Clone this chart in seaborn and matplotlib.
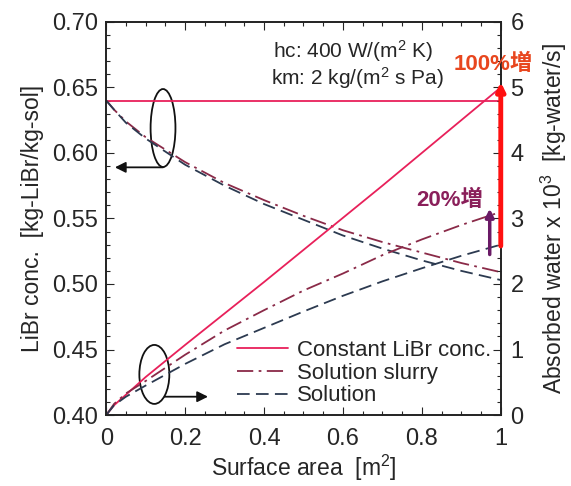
import numpy as np
import pandas as pd
import matplotlib
matplotlib.use("Agg")
import matplotlib.pyplot as plt
import seaborn as sns
from matplotlib.patches import Ellipse
from matplotlib.ticker import MultipleLocator

# ---- data ----
area = [0.0, 0.02, 0.05, 0.1, 0.2, 0.3, 0.4, 0.5, 0.6, 0.7, 0.8, 0.9, 1.0]
conc_const = [0.64] * 13
conc_slurry = [0.640, 0.633, 0.624, 0.612, 0.593, 0.577, 0.564, 0.552, 0.541, 0.532, 0.524, 0.516, 0.509]
conc_solution = [0.640, 0.633, 0.623, 0.611, 0.591, 0.575, 0.561, 0.549, 0.537, 0.527, 0.518, 0.510, 0.503]
abs_const = [0.0, 0.15, 0.31, 0.58, 1.07, 1.55, 2.03, 2.52, 3.01, 3.50, 4.00, 4.50, 5.00]
abs_slurry = [0.0, 0.17, 0.33, 0.52, 0.92, 1.29, 1.60, 1.90, 2.16, 2.44, 2.68, 2.90, 3.10]
abs_solution = [0.0, 0.15, 0.28, 0.45, 0.78, 1.08, 1.33, 1.58, 1.82, 2.04, 2.24, 2.43, 2.60]
labels = ["Constant LiBr conc.", "Solution slurry", "Solution"]

sns.set_style("ticks")
plt.rcParams['font.family'] = ['Liberation Sans', 'Noto Sans CJK JP', 'DejaVu Sans']
plt.rcParams['mathtext.fontset'] = 'custom'
plt.rcParams['mathtext.rm'] = 'Liberation Sans'
plt.rcParams['mathtext.it'] = 'Liberation Sans'
plt.rcParams['axes.unicode_minus'] = False

c_const = "#e8205a"
c_slurry = "#8a2a48"
c_sol = "#2c3a50"

fig = plt.figure(figsize=(5.71, 4.86), dpi=100)
ax = fig.add_axes([0.186, 0.146, 0.691, 0.809])
ax2 = ax.twinx()

df = pd.DataFrame({"area": area, "cc": conc_const, "cs": conc_slurry, "cl": conc_solution,
                   "ac": abs_const, "as": abs_slurry, "al": abs_solution})

sns.lineplot(data=df, x="area", y="cc", ax=ax, color=c_const, lw=1.3)
sns.lineplot(data=df, x="area", y="cs", ax=ax, color=c_slurry, lw=1.3).lines[-1].set_dashes((9, 3, 1.5, 3))
sns.lineplot(data=df, x="area", y="cl", ax=ax, color=c_sol, lw=1.3).lines[-1].set_dashes((7, 3.5))

sns.lineplot(data=df, x="area", y="ac", ax=ax2, color=c_const, lw=1.3, label=labels[0])
sns.lineplot(data=df, x="area", y="as", ax=ax2, color=c_slurry, lw=1.3, label=labels[1])
ax2.lines[-1].set_dashes((9, 3, 1.5, 3))
sns.lineplot(data=df, x="area", y="al", ax=ax2, color=c_sol, lw=1.3, label=labels[2])
ax2.lines[-1].set_dashes((7, 3.5))

ax.set_xlim(0, 1)
ax.set_ylim(0.40, 0.70)
ax2.set_ylim(0, 6)

fs = 16.5
ax.set_xlabel("Surface area  [m$^2$]", fontsize=fs, labelpad=2)
ax.set_ylabel("LiBr conc.  [kg-LiBr/kg-sol]", fontsize=fs, labelpad=6)
ax2.set_ylabel("Absorbed water x 10$^3$  [kg-water/s]", fontsize=fs, labelpad=11)


def xfmt(v, p):
    r = round(v, 6)
    if r == 0:
        return "0"
    if r == 1:
        return "1"
    return f"{r:.1f}"


ax.xaxis.set_major_locator(MultipleLocator(0.2))
ax.xaxis.set_minor_locator(MultipleLocator(0.05))
ax.yaxis.set_major_locator(MultipleLocator(0.05))
ax.yaxis.set_minor_locator(MultipleLocator(0.01))
ax2.yaxis.set_major_locator(MultipleLocator(1))
ax2.yaxis.set_minor_locator(MultipleLocator(0.2))
ax.xaxis.set_major_formatter(matplotlib.ticker.FuncFormatter(xfmt))
ax.yaxis.set_major_formatter(matplotlib.ticker.FormatStrFormatter("%.2f"))

ax.tick_params(which="both", direction="in", top=True, labelsize=17, width=0.8)
ax.tick_params(which="major", length=6)
ax.tick_params(which="minor", length=3)
ax.tick_params(axis="x", which="major", pad=9)
ax.tick_params(axis="y", which="major", pad=6)
ax2.tick_params(which="both", direction="in", labelsize=17, width=0.8)
ax2.tick_params(which="major", length=6, pad=7)
ax2.tick_params(which="minor", length=3)
for a in (ax, ax2):
    for s in a.spines.values():
        s.set_linewidth(1.2)
        s.set_color("#222222")

leg = ax2.legend(loc="lower left", bbox_to_anchor=(0.332, 0.022), frameon=False,
                 fontsize=16, handlelength=2.3, handletextpad=0.4,
                 labelspacing=0.08, borderaxespad=0, borderpad=0)

# text annotations
ax.text(0.422, 0.678, "hc: 400 W/(m$^2$ K)", fontsize=15, va="center", ha="left")
ax.text(0.417, 0.657, "km: 2 kg/(m$^2$ s Pa)", fontsize=15, va="center", ha="left")
ax2.text(0.98, 5.35, "100%増", color="#e8461e", fontsize=16, fontweight="bold",
         ha="center", va="center", clip_on=False)
ax2.text(0.87, 3.27, "20%増", color="#8a1f5a", fontsize=16, fontweight="bold",
         ha="center", va="center")

# vertical arrows
ax2.annotate("", xy=(1.0, 5.08), xytext=(1.0, 2.58),
             arrowprops=dict(arrowstyle="-|>", color="#ff1010", lw=3.5,
                             mutation_scale=12, shrinkA=0, shrinkB=0), annotation_clip=False)
ax2.annotate("", xy=(0.972, 3.15), xytext=(0.972, 2.45),
             arrowprops=dict(arrowstyle="-|>", color="#6a1a66", lw=2.5,
                             mutation_scale=12, shrinkA=0, shrinkB=0))

# ellipses and pointer arrows
ax.add_patch(Ellipse((0.144, 0.619), 0.063, 0.0595, fill=False, lw=1.3, ec="#111111"))
ax.annotate("", xy=(0.022, 0.589), xytext=(0.144, 0.589),
            arrowprops=dict(arrowstyle="-|>", color="#111111", lw=1.3,
                            mutation_scale=16, shrinkA=0, shrinkB=0))
ax.add_patch(Ellipse((0.122, 0.431), 0.076, 0.045, fill=False, lw=1.3, ec="#111111"))
ax.annotate("", xy=(0.258, 0.414), xytext=(0.148, 0.414),
            arrowprops=dict(arrowstyle="-|>", color="#111111", lw=1.3,
                            mutation_scale=16, shrinkA=0, shrinkB=0))

fig.savefig("out.png", dpi=100)
